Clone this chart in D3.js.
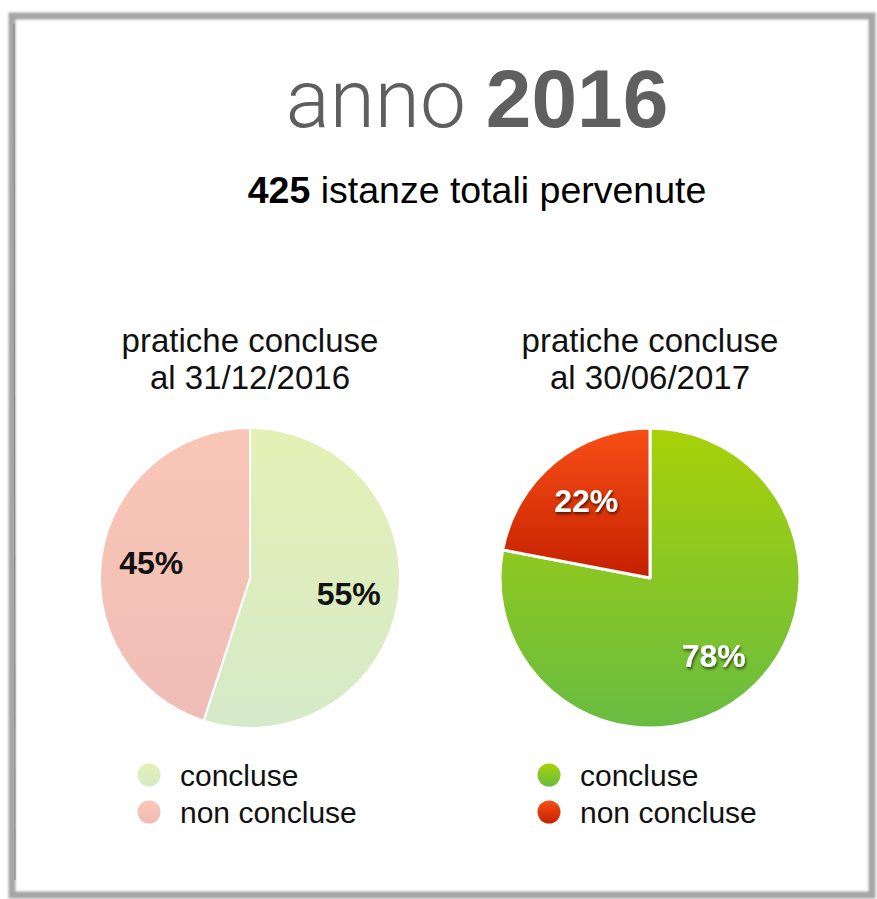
<!DOCTYPE html>
<html>
<head>
<meta charset="utf-8">
<script src="https://cdn.jsdelivr.net/npm/d3@7/dist/d3.min.js"></script>
<style>
  html, body { margin: 0; padding: 0; background: #fff; }
  svg { display: block; font-family: "Liberation Sans", Arial, Helvetica, sans-serif; }
</style>
</head>
<body>
<div id="chart"></div>
<script>
// data
var titleYear = "2016";
var totalRequests = 425;
var chartKeys = ["2016", "2017"];
var chartTitles = [["pratiche concluse", "al 31/12/2016"], ["pratiche concluse", "al 30/06/2017"]];
var categories = ["concluse", "non concluse"];
var values2016 = [55, 45];
var values2017 = [78, 22];
var chartValues = [values2016, values2017];

// colours: [top, bottom] of each slice gradient
var palettes = [
    [["#e4f0b4", "#d5eac9"], ["#f9c6b6", "#efbdb6"]],
    [["#a9d108", "#68bc42"], ["#f84f17", "#c52000"]]
];
var labelColors = ["#111", "#fff"];

var width = 877, height = 899;
var radius = 150;

var svg = d3.select("#chart").append("svg")
    .attr("width", width)
    .attr("height", height);

var defs = svg.append("defs");

var shadow = defs.append("filter").attr("id", "txtShadow")
    .attr("x", "-20%").attr("y", "-20%").attr("width", "140%").attr("height", "150%");
shadow.append("feDropShadow")
    .attr("dx", 1).attr("dy", 2).attr("stdDeviation", 1.6)
    .attr("flood-color", "#000").attr("flood-opacity", 0.65);

var frameBlur = defs.append("filter").attr("id", "frameBlur");
frameBlur.append("feGaussianBlur").attr("stdDeviation", 1.2);

// sketchy frame
var frame = svg.append("g").attr("class", "frame");
frame.append("rect")
    .attr("x", 12).attr("y", 16).attr("width", 860).attr("height", 879)
    .attr("fill", "none").attr("stroke", "#a6a6a6").attr("stroke-width", 7)
    .attr("filter", "url(#frameBlur)");
frame.append("line")
    .attr("x1", 14).attr("y1", 24).attr("x2", 15).attr("y2", 880)
    .attr("stroke", "#888").attr("stroke-width", 1.2);

// title
var title = svg.append("text")
    .attr("x", 477).attr("y", 127)
    .attr("text-anchor", "middle")
    .attr("fill", "#5f5f5f")
    .style("font-size", "82px");
title.append("tspan").text("anno ")
    .style("font-family", "Roboto, 'Liberation Sans', sans-serif")
    .style("font-weight", 300);
title.append("tspan").text(titleYear).style("font-weight", "bold");

var sub = svg.append("text")
    .attr("x", 477).attr("y", 203)
    .attr("text-anchor", "middle")
    .attr("fill", "#000")
    .style("font-size", "37.5px");
sub.append("tspan").text(totalRequests).style("font-weight", "bold");
sub.append("tspan").text(" istanze totali pervenute");

var xScale = d3.scaleBand().domain(chartKeys).range([50, 850]);
var cy = 578;

var pie = d3.pie().sort(null).value(function(d){ return d; });
var arc = d3.arc().innerRadius(0).outerRadius(radius);
var labelArc = d3.arc().innerRadius(100).outerRadius(100);

chartKeys.forEach(function(key, ci){
    var cx = xScale(key) + xScale.bandwidth() / 2;
    var g = svg.append("g").attr("class", "chart chart-" + key);

    // chart title
    var t = g.append("text")
        .attr("x", cx).attr("y", 352)
        .attr("text-anchor", "middle")
        .style("font-size", "33px").attr("fill", "#111");
    chartTitles[ci].forEach(function(line, li){
        t.append("tspan").attr("x", cx).attr("dy", li === 0 ? 0 : 37).text(line);
    });

    // gradients (local coords of the pie group)
    palettes[ci].forEach(function(cols, si){
        var gr = defs.append("linearGradient")
            .attr("id", "grad" + ci + "_" + si)
            .attr("gradientUnits", "userSpaceOnUse")
            .attr("x1", 0).attr("x2", 0)
            .attr("y1", -radius)
            .attr("y2", (ci === 1 && si === 1) ? 0 : radius);
        gr.append("stop").attr("offset", "0%").attr("stop-color", cols[0]);
        gr.append("stop").attr("offset", "100%").attr("stop-color", cols[1]);
        var lg = defs.append("linearGradient")
            .attr("id", "lgrad" + ci + "_" + si)
            .attr("x1", 0).attr("x2", 0).attr("y1", 0).attr("y2", 1);
        lg.append("stop").attr("offset", "0%").attr("stop-color", cols[0]);
        lg.append("stop").attr("offset", "100%").attr("stop-color", cols[1]);
    });

    var arcs = pie(chartValues[ci]);
    var pg = g.append("g").attr("transform", "translate(" + cx + "," + cy + ")");
    pg.selectAll("path").data(arcs).enter().append("path")
        .attr("d", arc)
        .attr("fill", function(d, i){ return "url(#grad" + ci + "_" + i + ")"; })
        .attr("stroke", "#fff")
        .attr("stroke-width", ci === 1 ? 3 : 2)
        .attr("stroke-linejoin", "round");

    pg.selectAll("text.pct").data(arcs).enter().append("text")
        .attr("class", "pct")
        .attr("transform", function(d){ return "translate(" + labelArc.centroid(d) + ")"; })
        .attr("text-anchor", "middle")
        .attr("dy", "0.36em")
        .attr("fill", labelColors[ci])
        .attr("filter", ci === 1 ? "url(#txtShadow)" : null)
        .style("font-size", "32px").style("font-weight", "bold")
        .text(function(d){ return d.data + "%"; });

    // legend
    var lx = cx - 101;
    var leg = g.selectAll("g.leg").data(categories).enter().append("g")
        .attr("class", "leg")
        .attr("transform", function(d, i){ return "translate(" + lx + "," + (775 + i * 37) + ")"; });
    leg.append("circle").attr("r", 11.5)
        .attr("fill", function(d, i){ return "url(#lgrad" + ci + "_" + i + ")"; });
    leg.append("text").attr("x", 31).attr("dy", "0.35em")
        .style("font-size", "30px").attr("fill", "#111")
        .text(function(d){ return d; });
});
</script>
</body>
</html>
